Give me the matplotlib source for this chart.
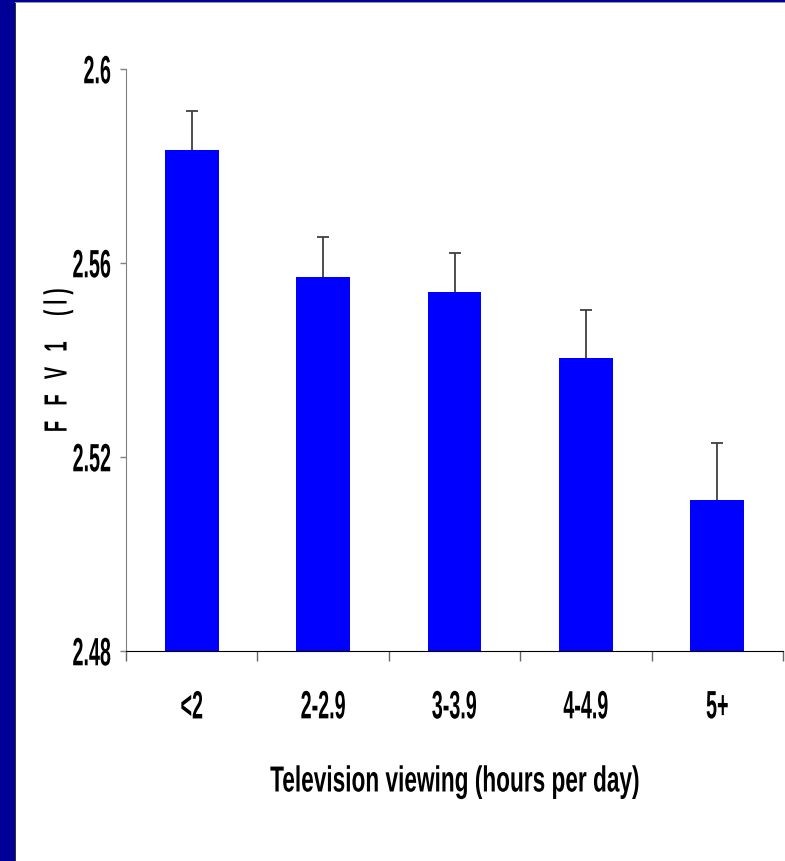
import matplotlib
matplotlib.use("Agg")
import numpy as np
import matplotlib.pyplot as plt
from matplotlib.patches import Rectangle
from matplotlib.patheffects import AbstractPathEffect
from matplotlib.transforms import Affine2D

# Television viewing groups and mean FEV1 with standard errors
categories = ["<2", "2-2.9", "3-3.9", "4-4.9", "5+"]
fev1 = [2.5833, 2.5571, 2.5540, 2.5404, 2.5111]
sem = [0.0081, 0.0082, 0.0081, 0.0099, 0.0118]
yticks = [2.48, 2.52, 2.56, 2.60]
ytick_labels = ["2.48", "2.52", "2.56", "2.6"]


class Tall(AbstractPathEffect):
    """Stretch glyphs along their height about the middle of the ink,
    giving a tall, condensed bold face."""

    def __init__(self, sy):
        super().__init__()
        self.sy = sy

    def draw_path(self, renderer, gc, tpath, affine, rgbFace=None):
        ext = tpath.get_extents()
        cy = 0.5 * (ext.y0 + ext.y1)
        stretch = Affine2D().translate(0, -cy).scale(1.0, self.sy).translate(0, cy)
        renderer.draw_path(gc, tpath, stretch + affine, rgbFace)


fam = ["Liberation Sans", "DejaVu Sans"]

W, H = 785, 862
fig = plt.figure(figsize=(W / 100, H / 100), dpi=100)
fig.patch.set_facecolor("white")

# navy slide frame along the left and top edges
fig.patches.append(Rectangle((0, 0), 15 / W, 1, transform=fig.transFigure,
                             facecolor="#000099", edgecolor="none", zorder=0))
fig.patches.append(Rectangle((15 / W, 0), 1 / W, 1 - 3 / H, transform=fig.transFigure,
                             facecolor="#333333", edgecolor="none", zorder=0))
fig.patches.append(Rectangle((0, 1 - 3 / H), 1, 3 / H, transform=fig.transFigure,
                             facecolor="#000099", edgecolor="none", zorder=0))
fig.patches.append(Rectangle((15 / W, 1 - 4 / H), 1, 1 / H, transform=fig.transFigure,
                             facecolor="#999999", edgecolor="none", zorder=0))

left, right, top, bottom = 126, 783, 70, 652
ax = fig.add_axes([left / W, 1 - bottom / H, (right - left) / W, (bottom - top) / H])

x = np.arange(len(categories)) + 0.5
ax.bar(x, fev1, width=0.41, bottom=0, color="#0000FF", edgecolor="none", zorder=2)
_, caps, _ = ax.errorbar(x, fev1, yerr=[[0] * len(sem), sem], fmt="none",
                         ecolor="#404040", elinewidth=1.3, capsize=4, capthick=1.3,
                         zorder=3)
# upper error bars only
for cap in caps:
    if np.allclose(cap.get_ydata(), fev1):
        cap.set_visible(False)
    else:
        cap.set_color("#707070")

ax.set_xlim(0, len(categories))
ax.set_ylim(2.48, 2.60)

for s in ("top", "right"):
    ax.spines[s].set_visible(False)
ax.spines["left"].set_color("#808080")
ax.spines["bottom"].set_color("#000000")

tick_size = 14.2
tick_tall = 2.0

ax.set_yticks(yticks)
ax.set_yticklabels(ytick_labels, fontfamily=fam, fontweight="bold", fontsize=tick_size)
ax.tick_params(axis="y", direction="out", length=4.3, width=1, color="#808080", pad=6.5)
for lbl in ax.get_yticklabels():
    lbl.set_path_effects([Tall(tick_tall)])

# category boundaries carry the tick marks, category centres carry the labels
ax.set_xticks(range(len(categories) + 1))
ax.set_xticklabels([])
ax.set_xticks(x, minor=True)
ax.set_xticklabels(categories, minor=True, fontfamily=fam, fontweight="bold",
                   fontsize=tick_size)
ax.tick_params(axis="x", which="major", direction="out", length=7.5, width=1, color="#666666")
ax.tick_params(axis="x", which="minor", length=0, pad=32.8)
for lbl in ax.get_xticklabels(minor=True):
    lbl.set_path_effects([Tall(tick_tall)])

ax.set_xlabel("Television viewing (hours per day)", fontfamily=fam, fontweight="bold",
              fontsize=16.3)
ax.xaxis.set_label_coords(0.5, (bottom - 771) / (bottom - top))
ax.xaxis.label.set_path_effects([Tall(1.6)])

ax.set_ylabel("F   F   V   1     ( l )", fontfamily=fam, fontweight="bold", fontsize=13.2)
ax.yaxis.set_label_coords((67 - left) / (right - left), 0.5)
ax.yaxis.label.set_path_effects([Tall(1.75)])

fig.savefig("out.png", dpi=100, facecolor="white")
